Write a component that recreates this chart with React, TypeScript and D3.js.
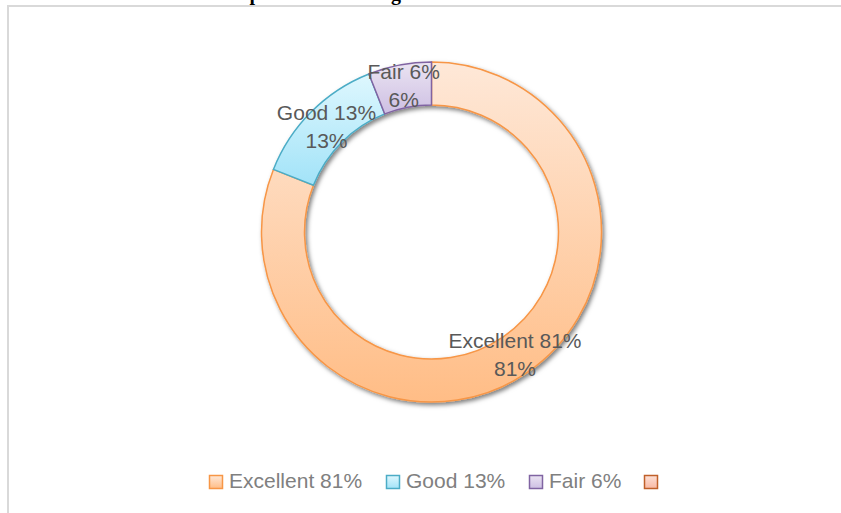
import React, { useRef, useEffect } from "react";
import * as d3 from "d3";

// chart data
const categories = ["Excellent 81%", "Good 13%", "Fair 6%", ""];
const values = [81, 13, 6, 0];
const pctLabels = ["81%", "13%", "6%", ""];
const strokeColors = ["#f79646", "#4bacc6", "#8064a2", "#c0602a"];
const gradTop = ["#fee8d8", "#def7fe", "#ebe4f2", "#fde0d6"];
const gradBottom = ["#ffbd86", "#a2e3f8", "#cdbfe3", "#f9b9a4"];
const title = "Satisfaction of Participants on Training";

const W = 841;
const H = 513;

function App() {
  const svgRef = useRef<SVGSVGElement>(null);

  useEffect(() => {
    const svg = d3.select(svgRef.current);
    svg.selectAll("*").remove();

    const defs = svg.append("defs");
    categories.forEach((_, i) => {
      const g = defs
        .append("linearGradient")
        .attr("id", `grad${i}`)
        .attr("x1", 0)
        .attr("y1", 0)
        .attr("x2", 0)
        .attr("y2", 1);
      g.append("stop").attr("offset", "0%").attr("stop-color", gradTop[i]);
      g.append("stop").attr("offset", "100%").attr("stop-color", gradBottom[i]);
    });
    const shadow = defs
      .append("filter")
      .attr("id", "shadow")
      .attr("x", "-10%")
      .attr("y", "-10%")
      .attr("width", "120%")
      .attr("height", "120%");
    shadow
      .append("feDropShadow")
      .attr("dx", 2)
      .attr("dy", 2.5)
      .attr("stdDeviation", 2.2)
      .attr("flood-color", "#000")
      .attr("flood-opacity", 0.5);

    // title (mostly cut off at the top of the picture)
    svg
      .append("text")
      .attr("x", 65)
      .attr("y", 0)
      .attr("font-family", "Liberation Serif, serif")
      .attr("font-weight", "bold")
      .attr("font-size", 20)
      .attr("fill", "#000")
      .text(title);

    // chart frame
    svg
      .append("rect")
      .attr("x", 8)
      .attr("y", 6)
      .attr("width", W + 20)
      .attr("height", H + 20)
      .attr("fill", "none")
      .attr("stroke", "#d9d9d9")
      .attr("stroke-width", 2);

    const cx = 431.5;
    const cy = 232;
    const outerR = 170;
    const innerR = 127;

    const pie = d3.pie<number>().sort(null).value((d) => d);
    const arcs = pie(values);
    const arc = d3.arc<d3.PieArcDatum<number>>().innerRadius(innerR).outerRadius(outerR);

    const g = svg.append("g").attr("transform", `translate(${cx},${cy})`);

    g.append("g")
      .attr("filter", "url(#shadow)")
      .selectAll("path")
      .data(arcs.filter((d) => d.value > 0))
      .enter()
      .append("path")
      .attr("d", arc)
      .attr("fill", (d) => `url(#grad${d.index})`)
      .attr("stroke", (d) => strokeColors[d.index])
      .attr("stroke-width", 1.5);

    // data labels at segment centroids
    const labels = g
      .selectAll(".lbl")
      .data(arcs.filter((d) => d.value > 0))
      .enter()
      .append("text")
      .attr("class", "lbl")
      .attr("transform", (d) => `translate(${arc.centroid(d)})`)
      .attr("text-anchor", "middle")
      .attr("font-family", "Liberation Sans, Arial, sans-serif")
      .attr("font-size", 21)
      .attr("fill", "#595959");
    labels
      .append("tspan")
      .attr("x", 0)
      .attr("y", -7)
      .text((d) => categories[d.index]);
    labels
      .append("tspan")
      .attr("x", 0)
      .attr("y", 21)
      .text((d) => pctLabels[d.index]);

    // legend
    const legendX = [209, 386, 529, 644];
    const legend = svg
      .append("g")
      .selectAll("g")
      .data(categories)
      .enter()
      .append("g")
      .attr("transform", (_, i) => `translate(${legendX[i]},475)`);
    legend
      .append("rect")
      .attr("x", 0.5)
      .attr("y", 0.5)
      .attr("width", 13)
      .attr("height", 13)
      .attr("fill", (_, i) => `url(#grad${i})`)
      .attr("stroke", (_, i) => strokeColors[i])
      .attr("stroke-width", 1.5);
    legend
      .append("text")
      .attr("x", 20)
      .attr("y", 13)
      .attr("font-family", "Liberation Sans, Arial, sans-serif")
      .attr("font-size", 21)
      .attr("fill", "#808080")
      .text((d) => d);
  }, []);

  return (
    <div>
      <svg
        ref={svgRef}
        width={W}
        height={H}
        style={{ position: "absolute", left: 0, top: 0, background: "#fff" }}
      />
    </div>
  );
}

export default App;
